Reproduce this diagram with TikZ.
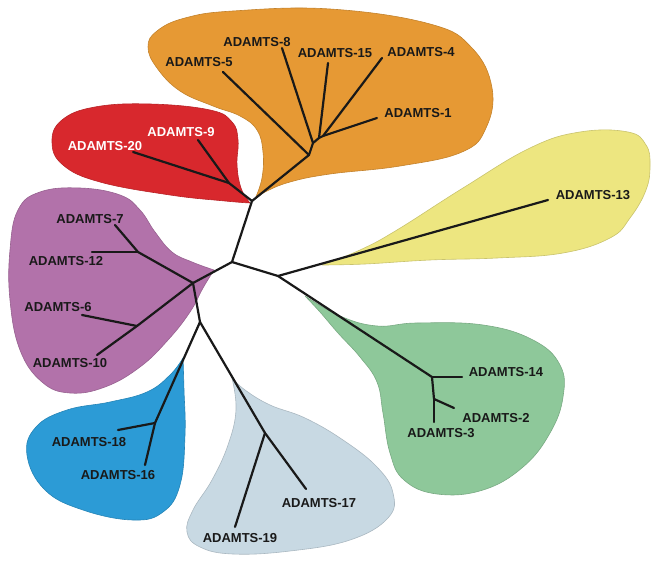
\documentclass[tikz,border=0pt]{standalone}
\usepackage{fontspec}
\setmainfont{Liberation Sans}
\definecolor{orangeclade}{RGB}{230,153,52}
\definecolor{redclade}{RGB}{216,40,45}
\definecolor{purpleclade}{RGB}{178,114,170}
\definecolor{blueclade}{RGB}{44,155,214}
\definecolor{greyclade}{RGB}{200,217,227}
\definecolor{greenclade}{RGB}{142,200,154}
\definecolor{yellowclade}{RGB}{237,230,128}

\begin{document}
\begin{tikzpicture}[x=1pt,y=-1pt,line cap=round,line join=round,
    font=\fontsize{13}{15}\selectfont\bfseries,
    branch/.style={black!90,line width=2.2pt},
    clade/.style={line width=.6pt,draw=#1!85!black,fill=#1},
    leaf/.style={inner sep=0pt,text=black!90},
    whiteleaf/.style={leaf,text=white}]
  \useasboundingbox (0,0) rectangle (651,564);

  \path[clade=orangeclade]
    plot[smooth,tension=.7] coordinates {
      (255,199) (262,178) (263,152) (257,130) (240,116) (213,106)
      (180,91) (157,68) (148,47) (157,31) (185,18) (233,11) (330,9)
      (430,24) (472,48) (492,88) (486,128) (462,152) (400,166)
      (330,174) (290,182) (265,192) (255,199)} -- cycle;

  \path[clade=redclade]
    plot[smooth,tension=.7] coordinates {
      (250,203) (241,188) (237,165) (238,140) (232,122) (210,110)
      (150,104) (95,107) (62,120) (52,142) (63,165) (100,182)
      (170,195) (225,201) (250,203)} -- cycle;

  \path[clade=purpleclade]
    plot[smooth,tension=.7] coordinates {
      (214,270) (192,262) (172,252) (155,232) (140,210) (120,195)
      (80,188) (40,192) (18,210) (10,250) (10,300) (20,350)
      (42,382) (70,393) (105,387) (140,367) (168,340) (190,312)
      (203,288) (214,270)} -- cycle;

  \path[clade=blueclade]
    plot[smooth,tension=.7] coordinates {
      (183,358) (184,390) (185,435) (180,485) (163,512) (133,520)
      (83,510) (45,490) (27,455) (36,427) (67,410) (110,402)
      (147,392) (170,375) (183,358)} -- cycle;

  \path[clade=greyclade]
    plot[smooth,tension=.7] coordinates {
      (232,378) (236,410) (228,445) (212,480) (193,510) (187,532)
      (200,547) (233,554) (290,551) (350,540) (388,518) (393,493)
      (377,467) (343,440) (305,418) (270,405) (245,390) (232,378)} -- cycle;

  \path[clade=greenclade]
    plot[smooth,tension=.7] coordinates {
      (305,296) (320,312) (338,333) (360,357) (377,382) (383,413)
      (390,453) (404,480) (437,494) (483,490) (523,467) (550,433)
      (563,397) (560,365) (533,340) (483,325) (417,323) (377,326)
      (340,316) (305,296)} -- cycle;

  \path[clade=yellowclade]
    plot[smooth,tension=.7] coordinates {
      (322,265) (360,250) (397,230) (463,188) (530,148) (580,132)
      (628,132) (646,145) (650,165) (646,190) (630,218) (610,238)
      (563,253) (497,258) (430,260) (365,264) (322,265)} -- cycle;

  % inner nodes
  \coordinate (Top) at (252,201);
  \coordinate (Hub) at (232,262);
  \coordinate (Right) at (278,276);
  \coordinate (Left) at (193,283);
  \coordinate (Low) at (200,322);
  \coordinate (Or1) at (309,155);
  \coordinate (Or2) at (313,143);
  \coordinate (Or3) at (319,138);
  \coordinate (Or4) at (323,136);
  \coordinate (Rd1) at (229,183);
  \coordinate (Pu1) at (138,252);
  \coordinate (Pu2) at (137,326);
  \coordinate (Bl1) at (155,423);
  \coordinate (Gy1) at (265,433);
  \coordinate (Gn1) at (432,377);
  \coordinate (Gn2) at (434,399);

  % tips
  \coordinate (e5) at (223,72);
  \coordinate (e8) at (282,48);
  \coordinate (e15) at (328,63);
  \coordinate (e4) at (382,58);
  \coordinate (e1) at (377,118);
  \coordinate (e13) at (548,200);
  \coordinate (e9) at (198,140);
  \coordinate (e20) at (133,152);
  \coordinate (e7) at (115,225);
  \coordinate (e12) at (92,252);
  \coordinate (e6) at (82,315);
  \coordinate (e10) at (97,355);
  \coordinate (e18) at (118,430);
  \coordinate (e16) at (145,465);
  \coordinate (e19) at (235,527);
  \coordinate (e17) at (306,489);
  \coordinate (e14) at (462,377);
  \coordinate (e2) at (454,408);
  \coordinate (e3) at (434,422);

  \foreach \a/\b in {Top/Hub,Hub/Right,Hub/Left,Left/Low,Top/Or1,Or1/Or2,
      Or2/Or3,Or3/Or4,Or1/e5,Or2/e8,Or3/e15,Or4/e4,Or4/e1,Top/Rd1,Rd1/e9,
      Rd1/e20,Right/e13,Right/Gn1,Gn1/e14,Gn1/Gn2,Gn2/e3,Gn2/e2,Left/Pu1,
      Pu1/e7,Pu1/e12,Left/Pu2,Pu2/e6,Pu2/e10,Low/Bl1,Bl1/e18,Bl1/e16,
      Low/Gy1,Gy1/e19,Gy1/e17}
    \draw[branch] (\a) -- (\b);

  \node[leaf] (t8) at (257,42) {ADAMTS-8};
  \node[leaf] (t5) at (199,62) {ADAMTS-5};
  \node[leaf] (t15) at (335,53) {ADAMTS-15};
  \node[leaf] (t4) at (421,52) {ADAMTS-4};
  \node[leaf] (t1) at (418,113) {ADAMTS-1};
  \node[leaf] (t13) at (593,195) {ADAMTS-13};
  \node[whiteleaf] (t9) at (181,132) {ADAMTS-9};
  \node[whiteleaf] (t20) at (105,146) {ADAMTS-20};
  \node[leaf] (t7) at (90,219) {ADAMTS-7};
  \node[leaf] (t12) at (66,261) {ADAMTS-12};
  \node[leaf] (t6) at (58,307) {ADAMTS-6};
  \node[leaf] (t10) at (70,363) {ADAMTS-10};
  \node[leaf] (t18) at (89,442) {ADAMTS-18};
  \node[leaf] (t16) at (118,475) {ADAMTS-16};
  \node[leaf] (t19) at (240,538) {ADAMTS-19};
  \node[leaf] (t17) at (319,503) {ADAMTS-17};
  \node[leaf] (t14) at (506,372) {ADAMTS-14};
  \node[leaf] (t2) at (496,418) {ADAMTS-2};
  \node[leaf] (t3) at (441,433) {ADAMTS-3};
\end{tikzpicture}
\end{document}
